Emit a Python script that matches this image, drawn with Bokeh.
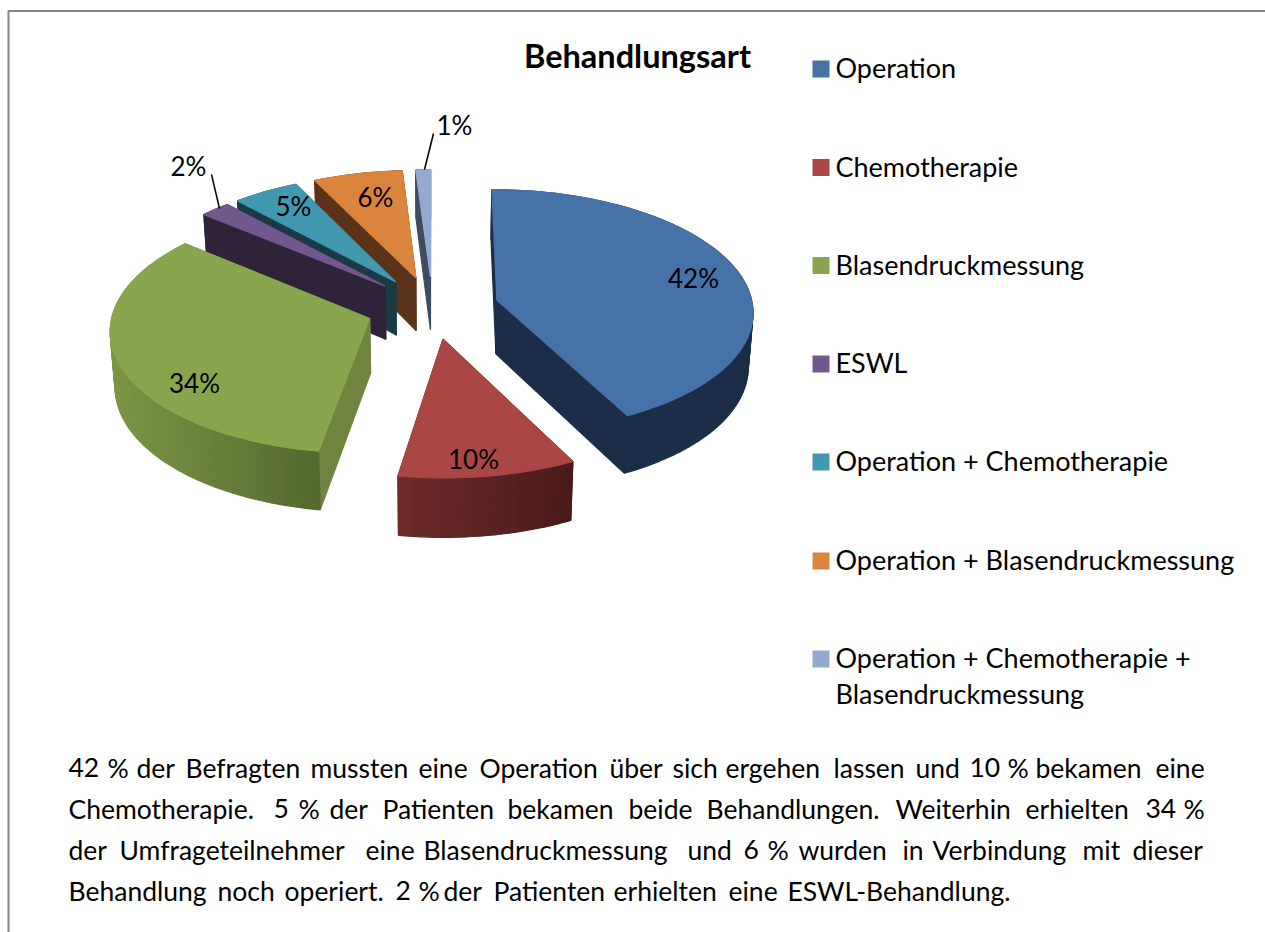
import math
from bokeh.plotting import figure
from bokeh.core.properties import value
from bokeh.embed import file_html
from bokeh.resources import INLINE

# ---- data -------------------------------------------------------------
categories = ["Operation", "Chemotherapie", "Blasendruckmessung", "ESWL",
              "Operation + Chemotherapie", "Operation + Blasendruckmessung",
              "Operation + Chemotherapie + Blasendruckmessung"]
shares = [42.49, 10.08, 33.51, 2.1, 4.6, 6.2, 1.02]
title = "Behandlungsart"
body_lines = [
    "42 % der Befragten mussten eine Operation über sich ergehen lassen und 10 % bekamen eine",
    "Chemotherapie. 5 % der Patienten bekamen beide Behandlungen. Weiterhin erhielten 34 %",
    "der Umfrageteilnehmer eine Blasendruckmessung und 6 % wurden in Verbindung mit dieser",
    "Behandlung noch operiert. 2 % der Patienten erhielten eine ESWL-Behandlung.",
]

# ---- style ------------------------------------------------------------
top_col = ["#4572A7", "#AA4643", "#89A54E", "#71588F", "#4198AF", "#DB843D", "#93A9CF"]
wall_col = ["#1C2E47", "#5A2322", "#71843F", "#2E2339", "#1A3A46", "#5A3318", "#3E4C62"]
rim_left = ["#1C2E47", "#6E2B2B", "#7C9647", "#2E2339", "#1A3A46", "#5A3318", "#3E4C62"]
rim_right = ["#1C2E47", "#481A19", "#54692E", "#2E2339", "#1A3A46", "#5A3318", "#3E4C62"]
draw_order = [6, 5, 4, 3, 0, 2, 1]
FONT = "Lato"
TXT = "#000000"
BORDER = "#868686"

# ---- layout (page pixels) ---------------------------------------------
CX, CY, A, B, K = 432.0, 307.0, 256.0, 121.1, 0.085
DEPTH, SHRINK, EXPLODE, START = 54.0, 0.015, 0.26, 0.0
label_x = [693, 473, 194, 188, 293, 375, 454]
label_y = [277, 458, 382, 165, 205, 196, 124]
legend_y = [68.5, 167, 265, 363.5, 461.5, 560.5, 658.5]
BASE_FIX = -10
body_base = [777, 818, 859, 900]
body_x = [
    [68, 107, 136, 185, 310, 418, 479, 609, 672, 725, 833, 915, 969, 1007, 1035, 1155],
    [68, 273, 298, 329, 382, 507, 628, 706, 895, 1025, 1145, 1183],
    [68, 119, 365, 423, 687, 743, 767, 798, 902, 932, 1082, 1132],
    [68, 217, 284, 395, 418, 443, 493, 613, 728, 787],
]

p = figure(width=1265, height=932, x_range=(0, 1265), y_range=(932, 0),
           x_axis_type=None, y_axis_type=None, toolbar_location=None,
           output_backend="svg", min_border=0, outline_line_color=None,
           background_fill_color="white", border_fill_color="white")
p.grid.visible = False


def proj(u, v, z=0.0):
    w = 1 - K * v
    x = A * u / w
    y = B * v / w
    return CX + x * (1 - SHRINK * z), CY + y + z * DEPTH * (1 + 0.08 * v)


def mix(c1, c2, t):
    a = [int(c1[i:i + 2], 16) for i in (1, 3, 5)]
    b = [int(c2[i:i + 2], 16) for i in (1, 3, 5)]
    return "#%02x%02x%02x" % tuple(round(a[i] + (b[i] - a[i]) * t) for i in range(3))


total = sum(shares)
bounds = [START]
for s in shares:
    bounds.append(bounds[-1] + 360 * s / total)

xs, ys, cols = [], [], []


def add(poly, col):
    xs.append([q[0] for q in poly])
    ys.append([q[1] for q in poly])
    cols.append(col)


for i in draw_order:
    a0, a1 = bounds[i], bounds[i + 1]
    mid = math.radians((a0 + a1) / 2)
    ou, ov = EXPLODE * math.sin(mid), -EXPLODE * math.cos(mid)
    n = max(4, int((a1 - a0) / 1.5))
    arc = []
    for j in range(n + 1):
        t = math.radians(a0 + (a1 - a0) * j / n)
        arc.append((ou + math.sin(t), ov - math.cos(t)))
    apex = (ou, ov)
    faces = []
    for e in (arc[0], arc[-1]):
        faces.append(((apex[1] + e[1]) / 2,
                      [proj(*apex), proj(*e), proj(*e, 1), proj(*apex, 1)], wall_col[i]))
    px = [proj(*q)[0] for q in arc]
    xmin, xmax = min(px), max(px)
    for j in range(n):
        q0, q1 = arc[j], arc[j + 1]
        tx = ((proj(*q0)[0] + proj(*q1)[0]) / 2 - xmin) / max(xmax - xmin, 1)
        faces.append(((q0[1] + q1[1]) / 2,
                      [proj(*q0), proj(*q1), proj(*q1, 1), proj(*q0, 1)],
                      mix(rim_left[i], rim_right[i], tx)))
    for _, poly, col in sorted(faces, key=lambda f: f[0]):
        add(poly, col)
    add([proj(*apex)] + [proj(*q) for q in arc], top_col[i])

p.patches(xs, ys, fill_color=cols, line_color=cols, line_width=1.2)

# leader lines
p.segment(x0=[211, 433], y0=[174, 133], x1=[219, 424], y1=[208, 169],
          line_color="#000000", line_width=1.5)

# data labels
p.text(x=label_x, y=label_y, text=[f"{round(s)}%" for s in shares],
       text_font=value(FONT), text_font_size="26px", text_color=TXT,
       text_align="center", text_baseline="middle")

# title
p.text(x=[637], y=[65 + BASE_FIX], text=[title], text_font=value(FONT), text_font_size="32.5px",
       text_font_style="bold", text_color=TXT, text_align="center",
       text_baseline="alphabetic")

# legend
p.quad(left=[812] * 7, right=[829] * 7,
       top=[y - 8.5 for y in legend_y], bottom=[y + 8.5 for y in legend_y],
       fill_color=top_col, line_color=None)
leg_lines, leg_y = [], []
for c, y in zip(categories, legend_y):
    if len(c) > 40:
        head, tail = c.rsplit(" ", 1)
        leg_lines += [head, tail]
        leg_y += [y + 8.5 + BASE_FIX, y + 44.5 + BASE_FIX]
    else:
        leg_lines.append(c)
        leg_y.append(y + 8.5 + BASE_FIX)
p.text(x=[835] * len(leg_lines), y=leg_y, text=leg_lines, text_font=value(FONT),
       text_font_size="27px", text_color=TXT, text_align="left",
       text_baseline="alphabetic")

# body text (justified: each word at its own start)
wx, wy, wt = [], [], []
for line, base, starts in zip(body_lines, body_base, body_x):
    for w, x in zip(line.split(" "), starts):
        wx.append(x)
        wy.append(base + BASE_FIX)
        wt.append(w)
p.text(x=wx, y=wy, text=wt, text_font=value(FONT), text_font_size="26.5px",
       text_color=TXT, text_align="left", text_baseline="alphabetic")

# chart frame
p.line(x=[8, 8, 1265], y=[932, 10.5, 10.5], line_color=BORDER, line_width=2)

open("out.html", "w").write(file_html(p, INLINE))
